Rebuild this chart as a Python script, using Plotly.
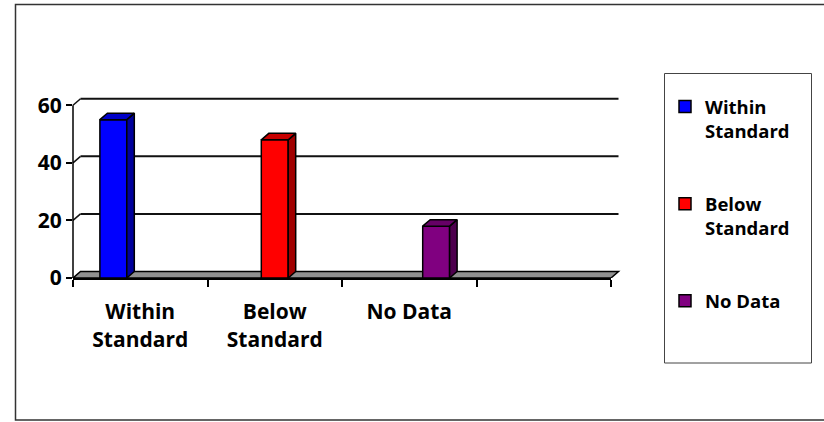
import plotly.graph_objects as go

# ---------------- data ----------------
categories = ["Within<br>Standard", "Below<br>Standard", "No Data", ""]
series_names = ["Within<br>Standard", "Below<br>Standard", "No Data"]
within_standard = [55, None, None, None]
below_standard = [None, 48, None, None]
no_data = [None, None, 18, None]
y_ticks = [0, 20, 40, 60]

series_values = [within_standard, below_standard, no_data]
front_colors = ["#0000FF", "#FF0000", "#800080"]
side_colors = ["#00009C", "#A00000", "#4E004E"]
top_colors = ["#0000C8", "#C80000", "#660066"]

# ---------------- layout geometry ----------------
W, H = 824, 422
L, R_EDGE = 73, 611
T, B_EDGE = 88, 278
YMAX = 66
pw = R_EDGE - L
ph = B_EDGE - T
ncat = len(categories)
px_per_x = pw / ncat
px_per_y = ph / YMAX
DX_PX, DY_PX = 7.5, 6.5
dx = DX_PX / px_per_x
dy = DY_PX / px_per_y
dxp = DX_PX / pw
bargap = 0.40
nser = len(series_values)
bw = (1 - bargap) / nser

FONT = "Open Sans"

fig = go.Figure()
x_idx = list(range(ncat))
for i, (name, vals) in enumerate(zip(series_names, series_values)):
    fig.add_trace(go.Bar(
        x=x_idx, y=vals, name=name,
        marker=dict(color=front_colors[i], line=dict(color="black", width=1.5)),
        legendgroup=f"g{i}", hoverinfo="skip",
    ))

# 3D side and top faces, computed from the data values
for i, vals in enumerate(series_values):
    off = -(1 - bargap) / 2 + bw * i
    for j, v in enumerate(vals):
        if v is None:
            continue
        xl = j + off
        xr = xl + bw
        fig.add_trace(go.Scatter(
            x=[xr, xr + dx, xr + dx, xr, xr], y=[0, dy, v + dy, v, 0],
            fill="toself", fillcolor=side_colors[i], mode="lines",
            line=dict(color="black", width=1.5), showlegend=False, hoverinfo="skip"))
        fig.add_trace(go.Scatter(
            x=[xl, xr, xr + dx, xl + dx, xl], y=[v, v, v + dy, v + dy, v],
            fill="toself", fillcolor=top_colors[i], mode="lines",
            line=dict(color="black", width=1.5), showlegend=False, hoverinfo="skip"))

shapes = []
# floor
shapes.append(dict(type="path", xref="paper", yref="y", layer="below",
                   path=f"M 0,0 L 1,0 L {1+dxp},{dy} L {dxp},{dy} Z",
                   fillcolor="#909090", line=dict(color="black", width=1.5)))
# back wall gridlines and wall diagonals
for v in y_ticks:
    if v > 0:
        shapes.append(dict(type="line", xref="paper", yref="y", layer="below",
                           x0=dxp, x1=1 + dxp, y0=v + dy, y1=v + dy,
                           line=dict(color="#111111", width=2)))
        shapes.append(dict(type="line", xref="paper", yref="y", layer="below",
                           x0=0, x1=dxp, y0=v, y1=v + dy,
                           line=dict(color="#111111", width=1.5)))
# y axis line (0..60)
shapes.append(dict(type="line", xref="paper", yref="y", layer="above",
                   x0=0, x1=0, y0=0, y1=max(y_ticks),
                   line=dict(color="black", width=1.5)))
# outer border
shapes.append(dict(type="rect", xref="paper", yref="paper",
                   x0=(15.5 - L) / pw, x1=(830 - L) / pw,
                   y0=(B_EDGE - 420) / ph, y1=(B_EDGE - 4.5) / ph,
                   line=dict(color="#333333", width=1.5)))
# legend box
shapes.append(dict(type="rect", xref="paper", yref="paper",
                   x0=(664.5 - L) / pw, x1=(811.5 - L) / pw,
                   y0=(B_EDGE - 363) / ph, y1=(B_EDGE - 73.5) / ph,
                   line=dict(color="#444444", width=1)))

fig.update_layout(
    width=W, height=H,
    margin=dict(l=L, r=W - R_EDGE, t=T, b=H - B_EDGE, autoexpand=False),
    paper_bgcolor="white", plot_bgcolor="white",
    barmode="group", bargap=bargap, bargroupgap=0,
    shapes=shapes,
    showlegend=True,
    legend=dict(xref="container", yref="container", x=665 / W, y=1 - 88 / H,
                xanchor="left", yanchor="top", valign="top", maxheight=330,
                tracegroupgap=46, borderwidth=0, bgcolor="rgba(0,0,0,0)",
                font=dict(family=FONT, size=18.5, color="black", weight="bold")),
    xaxis=dict(range=[-0.5, ncat - 0.5], tickmode="array", tickvals=x_idx,
               ticktext=categories, ticks="", showgrid=False, zeroline=False,
               showline=True, linecolor="black", linewidth=2,
               ticklabelstandoff=14,
               tickfont=dict(family=FONT, size=21, color="black", weight="bold"),
               minor=dict(tickmode="array", tickvals=[k - 0.5 for k in range(ncat + 1)],
                          ticks="outside", ticklen=7, tickwidth=1.5, tickcolor="black",
                          showgrid=False)),
    yaxis=dict(range=[0, YMAX], tickmode="array", tickvals=y_ticks,
               ticks="outside", ticklen=6, tickwidth=1.5, tickcolor="black",
               showline=False, showgrid=False, zeroline=False,
               tickfont=dict(family=FONT, size=21, color="black", weight="bold")),
)

fig.write_html("out.html", config={"displayModeBar": False},
               post_script="document.body.style.margin='0';")
